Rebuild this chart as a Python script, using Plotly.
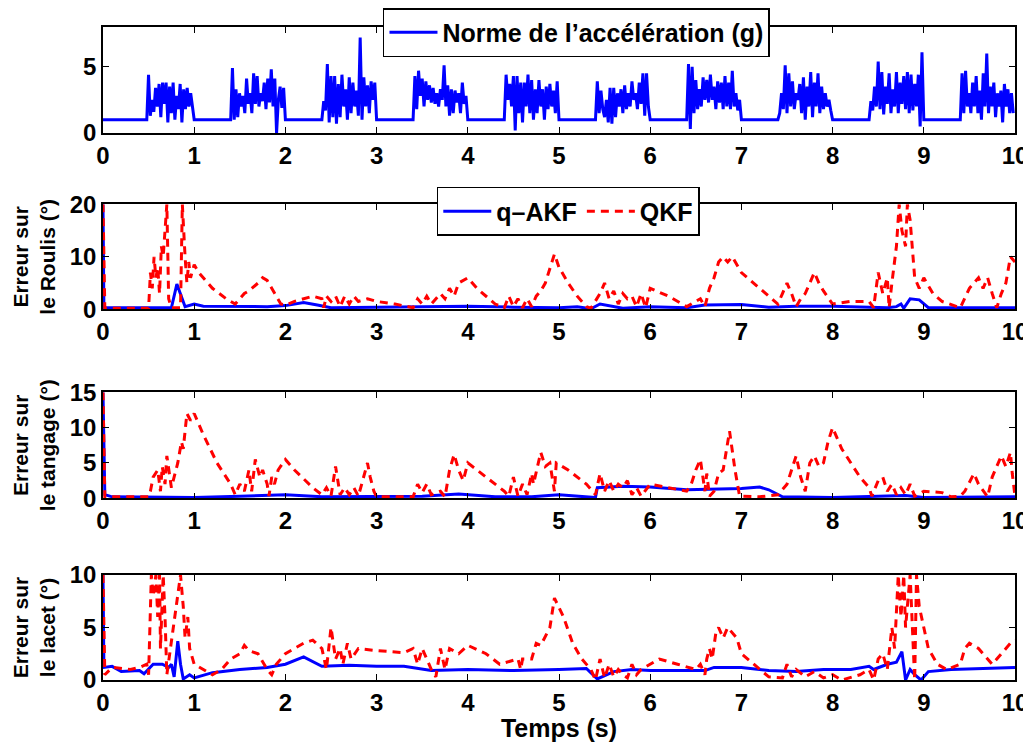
import plotly.graph_objects as go

# ---------------- data ----------------
acc_baseline = 1.0
acc_burst_start = [0.48, 1.40, 2.40, 3.40, 4.40, 5.40, 6.40, 7.40, 8.40, 9.40]
acc_burst_end = [1.00, 2.00, 3.00, 4.00, 5.00, 6.00, 7.00, 8.00, 9.00, 10.00]
acc_b1 = [4.4, 1.3, 2.5, 1.6, 3.4, 2.0, 3.7, 1.2, 3.8, 2.2, 3.8, 0.8, 3.5, 1.5, 3.8, 1.0, 2.8, 1.8, 3.7, 0.8, 3.3, 1.8, 3.4, 2.0, 3.0, 1.9]
acc_b2 = [4.9, 1.0, 3.3, 1.2, 3.0, 2.0, 2.8, 1.5, 4.1, 2.2, 3.0, 1.5, 4.5, 2.2, 4.3, 2.0, 3.0, 2.4, 3.8, 1.8, 4.1, 2.3, 4.8, 2.0, 4.1, 0.0, 2.5, 3.5, 1.9, 3.4]
acc_b3 = [2.4, 1.7, 5.2, 0.8, 4.3, 1.2, 4.3, 0.7, 3.7, 1.2, 4.4, 2.0, 3.3, 1.0, 4.2, 1.5, 3.8, 2.0, 3.2, 1.3, 7.2, 1.0, 4.2, 2.0, 3.6, 1.5, 3.9, 2.5, 3.8]
acc_b4 = [4.3, 1.8, 4.7, 2.8, 4.1, 2.0, 3.9, 2.5, 3.6, 2.3, 3.4, 2.2, 3.0, 2.0, 3.3, 2.5, 5.1, 2.0, 3.6, 1.3, 3.3, 1.5, 3.2, 2.3, 3.0, 1.5, 3.8, 2.2, 2.8]
acc_b5 = [4.4, 2.5, 3.7, 2.0, 4.3, 0.2, 4.3, 1.5, 3.8, 0.8, 3.8, 2.0, 4.4, 1.5, 4.0, 1.0, 3.3, 1.5, 4.0, 2.0, 3.3, 1.0, 3.5, 1.8, 3.7, 2.0, 3.2, 1.5, 3.9]
acc_b6 = [3.9, 1.5, 3.2, 1.8, 1.2, 2.5, 0.8, 3.4, 0.7, 3.4, 1.2, 3.0, 2.0, 3.3, 1.5, 3.6, 1.8, 3.0, 2.0, 3.9, 2.5, 3.0, 1.8, 3.8, 2.2, 4.5, 1.3, 4.5, 2.0]
acc_b7 = [5.2, 0.3, 5.0, 1.5, 4.0, 1.8, 3.3, 2.0, 4.2, 2.5, 4.0, 2.3, 4.4, 2.5, 3.5, 1.8, 3.9, 2.3, 3.8, 1.8, 4.3, 2.0, 3.8, 1.8, 4.7, 2.0, 3.0, 1.7, 2.5]
acc_b8 = [1.5, 3.0, 1.8, 5.1, 1.5, 4.5, 2.0, 3.9, 1.8, 3.0, 2.5, 3.7, 1.5, 4.2, 1.0, 3.5, 2.0, 4.6, 1.2, 3.8, 2.0, 4.5, 1.5, 3.5, 1.8, 3.0, 2.0, 2.5, 1.7]
acc_b9 = [2.4, 1.7, 3.5, 2.0, 5.4, 1.8, 4.6, 1.4, 3.5, 2.2, 4.5, 1.5, 3.3, 2.0, 4.6, 1.5, 3.8, 2.2, 4.3, 1.8, 4.6, 1.5, 4.4, 1.7, 3.7, 2.0, 4.4, 0.5, 6.1]
acc_b10 = [4.5, 1.5, 4.7, 2.0, 3.0, 1.5, 3.8, 2.0, 4.3, 1.5, 3.2, 1.0, 4.5, 2.0, 6.0, 1.5, 3.5, 2.0, 3.8, 1.2, 3.0, 2.0, 3.2, 0.8, 3.7, 2.0, 3.3, 1.5, 3.0, 1.5]

# Roulis error (deg)
roll_akf_t = [0, 0.01, 0.75, 0.81, 0.9, 1.0, 1.1, 1.4, 1.8, 2.0, 2.2, 2.35, 2.5, 3.0, 3.5, 4.0, 4.5, 5.0, 5.2, 5.35, 5.45, 5.6, 5.7, 6.0, 6.4, 6.6, 7.0, 7.3, 7.6, 8.0, 8.6, 8.7, 8.75, 8.78, 8.85, 8.95, 9.05, 10.0]
roll_akf_v = [20, 0.3, 0.3, 4.8, 0.5, 1.0, 0.6, 0.5, 0.5, 0.7, 1.3, 0.8, 0.3, 0.4, 0.5, 0.6, 0.4, 0.3, 0.5, 0.1, 1.0, 0.5, 0.2, 0.5, 0.3, 0.8, 0.9, 0.4, 0.6, 0.6, 0.3, 0.5, 1.0, 0.2, 2.0, 1.8, 0.3, 0.3]
roll_qkf_t = [0, 0.02, 0.5, 0.52, 0.54, 0.56, 0.58, 0.6, 0.62, 0.64, 0.66, 0.68, 0.70, 0.72, 0.75, 0.85, 0.87, 0.9, 0.92, 0.94, 0.96, 1.0, 1.05, 1.2, 1.35, 1.45, 1.5, 1.55, 1.6, 1.7, 1.75, 1.8, 1.85, 1.95, 2.0, 2.1, 2.3, 2.4, 2.42, 2.45, 2.5, 2.55, 2.6, 2.65, 2.7, 2.75, 2.8, 2.9, 3.0, 3.2, 3.4, 3.45, 3.5, 3.55, 3.6, 3.7, 3.75, 3.8, 3.85, 3.9, 4.0, 4.1, 4.3, 4.4, 4.45, 4.5, 4.55, 4.6, 4.65, 4.7, 4.75, 4.8, 4.85, 4.9, 4.95, 5.0, 5.1, 5.2, 5.3, 5.35, 5.45, 5.5, 5.55, 5.6, 5.65, 5.7, 5.75, 5.8, 5.85, 5.9, 5.95, 6.0, 6.2, 6.4, 6.5, 6.55, 6.6, 6.65, 6.7, 6.75, 6.8, 6.85, 6.9, 7.0, 7.2, 7.4, 7.45, 7.5, 7.55, 7.6, 7.65, 7.7, 7.75, 7.8, 7.85, 7.9, 8.0, 8.2, 8.4, 8.45, 8.5, 8.55, 8.6, 8.62, 8.65, 8.7, 8.73, 8.76, 8.8, 8.82, 8.85, 8.88, 8.9, 8.95, 9.0, 9.1, 9.2, 9.4, 9.5, 9.55, 9.6, 9.65, 9.7, 9.75, 9.8, 9.85, 9.9, 9.95, 10.0]
roll_qkf_v = [20, 0.2, 0.2, 7, 4, 10, 6, 8, 3, 12, 10, 15, 20, 2, 0.3, 0.3, 20, 10, 5, 9, 6, 8.5, 7, 4, 2, 1, 2, 3, 3.5, 5, 6, 5.5, 4, 1, 0.8, 1.5, 2.5, 2, 0.3, 2.5, 1.5, 2.5, 0.5, 2.5, 1, 2.5, 1.5, 2, 1.5, 1, 0.3, 2, 1, 2.5, 1, 3, 2, 4, 2.5, 5, 6, 4, 1, 0.3, 2.5, 0.5, 2, 0.3, 2, 0.5, 2.5, 3.5, 5, 8, 10.5, 8, 5, 2.5, 0.5, 0.2, 3, 5, 2, 3.5, 1, 3, 2, 2.5, 0.5, 3, 0.3, 4, 2.5, 0.5, 1.5, 2, 0.5, 4, 6, 9, 10, 9, 10, 7, 4, 1, 3, 5, 3, 0.5, 2, 3, 5, 7, 5, 3.5, 1, 1.5, 1.5, 0.3, 7, 3, 6, 0.3, 5, 12, 20, 15, 12, 20, 17, 10, 6, 4, 6, 3, 1.5, 0.3, 4, 5, 6, 4, 6, 3, 0.3, 3, 5, 10, 9]

# Tangage error (deg)
pitch_akf_t = [0, 0.02, 0.1, 0.5, 1.0, 1.5, 2.0, 2.4, 3.0, 3.5, 3.9, 4.3, 4.7, 5.0, 5.4, 5.42, 5.7, 6.0, 6.4, 6.8, 7.0, 7.2, 7.3, 7.45, 8.0, 8.5, 8.8, 9.0, 9.5, 10.0]
pitch_akf_v = [15, 0.5, 0.2, 0.2, 0.1, 0.3, 0.5, 0.2, 0.2, 0.3, 0.6, 0.2, 0.2, 0.5, 0.1, 1.5, 1.7, 1.6, 1.2, 1.3, 1.4, 1.6, 1.2, 0.2, 0.1, 0.3, 0.4, 0.1, 0.1, 0.2]
pitch_qkf_t = [0, 0.02, 0.5, 0.52, 0.55, 0.6, 0.63, 0.65, 0.68, 0.7, 0.75, 0.78, 0.82, 0.86, 0.88, 0.92, 0.96, 1.0, 1.1, 1.25, 1.4, 1.45, 1.5, 1.55, 1.6, 1.63, 1.67, 1.72, 1.75, 1.8, 1.82, 1.85, 1.88, 1.92, 2.0, 2.1, 2.3, 2.4, 2.45, 2.5, 2.55, 2.6, 2.65, 2.7, 2.75, 2.8, 2.9, 2.93, 2.97, 3.0, 3.4, 3.45, 3.5, 3.55, 3.6, 3.7, 3.75, 3.8, 3.85, 3.9, 3.95, 4.0, 4.2, 4.4, 4.45, 4.5, 4.55, 4.6, 4.65, 4.7, 4.72, 4.8, 4.85, 4.9, 4.95, 4.97, 5.1, 5.3, 5.4, 5.45, 5.5, 5.55, 5.6, 5.65, 5.7, 5.75, 5.8, 5.85, 5.9, 6.0, 6.2, 6.4, 6.45, 6.5, 6.55, 6.6, 6.62, 6.65, 6.7, 6.75, 6.8, 6.87, 6.93, 6.98, 7.2, 7.4, 7.5, 7.55, 7.6, 7.65, 7.7, 7.75, 7.8, 7.85, 7.9, 7.95, 8.0, 8.1, 8.3, 8.4, 8.43, 8.5, 8.55, 8.6, 8.65, 8.7, 8.75, 8.8, 8.85, 8.9, 9.0, 9.2, 9.3, 9.4, 9.45, 9.55, 9.6, 9.7, 9.75, 9.85, 9.9, 9.95, 9.97, 10.0]
pitch_qkf_v = [15, 0.2, 0.2, 1, 3, 4, 1, 4.5, 2, 6, 1.5, 3, 5, 8, 7, 12, 11, 12, 9, 5, 2, 0.5, 2, 1, 4, 1, 5.5, 3, 4, 2, 0.3, 3, 2, 4, 5.5, 4, 1.5, 0.5, 1.5, 0.3, 4.5, 0.5, 1.5, 0.5, 1.5, 0.3, 5, 3, 1, 0.2, 0.2, 2, 0.8, 2, 0.5, 1, 0.2, 4, 6.2, 4, 2.5, 5, 3, 1, 0.3, 3, 0.3, 2, 0.5, 3.5, 2, 6.5, 4.5, 5, 1, 5, 4, 2, 0.5, 3.5, 1, 2.5, 1, 2, 1.5, 2.5, 0.5, 1.5, 0.3, 2, 1.5, 1, 2, 4, 5.5, 1, 3.5, 0.3, 1, 3.5, 4, 9.5, 4, 0.3, 0.2, 0.5, 2, 4, 6, 3, 1, 5, 6, 4.5, 5, 8, 10, 7, 3, 1.5, 0.3, 2.5, 3, 1, 2, 0.5, 1.5, 0.5, 2, 0.3, 1, 0.8, 0.2, 0.3, 1, 3.5, 2, 0.2, 3, 6, 4.5, 6.5, 3.5, 0.3]

# Lacet error (deg)
yaw_akf_t = [0, 0.01, 0.1, 0.2, 0.4, 0.45, 0.55, 0.65, 0.72, 0.75, 0.78, 0.82, 0.85, 0.88, 0.95, 1.0, 1.2, 1.5, 1.8, 2.0, 2.2, 2.4, 2.7, 3.0, 3.3, 3.6, 4.0, 4.5, 5.0, 5.3, 5.42, 5.6, 5.8, 6.0, 6.3, 6.6, 6.7, 7.0, 7.3, 7.6, 7.9, 8.2, 8.4, 8.45, 8.6, 8.7, 8.76, 8.8, 8.85, 8.9, 8.97, 9.05, 9.3, 9.6, 10.0]
yaw_akf_v = [10, 1.2, 1.3, 0.8, 0.9, 0.6, 1.5, 1.5, 1.2, 1.5, 0.3, 3.7, 1.5, 0.1, 0.5, 0.2, 0.7, 1.0, 1.2, 1.5, 2.2, 1.3, 1.4, 1.3, 1.3, 0.9, 1.0, 0.9, 1.0, 1.1, 0.1, 0.8, 1.0, 0.9, 0.9, 0.9, 1.2, 1.2, 0.9, 0.8, 1.0, 1.0, 1.3, 1.0, 1.5, 1.7, 2.7, 0.0, 1.0, 0.5, 0.0, 0.8, 1.0, 1.1, 1.2]
yaw_qkf_t = [0, 0.02, 0.1, 0.3, 0.4, 0.48, 0.5, 0.53, 0.55, 0.58, 0.6, 0.62, 0.63, 0.66, 0.68, 0.7, 0.85, 0.88, 0.9, 0.93, 0.95, 1.0, 1.1, 1.2, 1.3, 1.4, 1.5, 1.55, 1.6, 1.7, 1.8, 1.85, 1.9, 2.0, 2.1, 2.2, 2.3, 2.4, 2.45, 2.5, 2.55, 2.6, 2.63, 2.68, 2.72, 2.8, 3.0, 3.3, 3.4, 3.45, 3.5, 3.6, 3.65, 3.7, 3.75, 3.8, 3.9, 4.0, 4.2, 4.35, 4.55, 4.58, 4.6, 4.7, 4.75, 4.8, 4.9, 4.95, 5.05, 5.15, 5.25, 5.35, 5.4, 5.45, 5.5, 5.55, 5.6, 5.65, 5.7, 5.75, 5.8, 5.85, 5.9, 6.0, 6.1, 6.3, 6.5, 6.55, 6.6, 6.62, 6.65, 6.68, 6.72, 6.75, 6.8, 6.85, 6.95, 7.0, 7.2, 7.3, 7.45, 7.5, 7.55, 7.6, 7.7, 7.8, 7.9, 8.0, 8.1, 8.3, 8.4, 8.45, 8.5, 8.55, 8.6, 8.65, 8.68, 8.72, 8.75, 8.78, 8.8, 8.85, 8.87, 8.9, 8.92, 8.95, 9.05, 9.15, 9.25, 9.4, 9.45, 9.5, 9.6, 9.7, 9.75, 9.85, 9.95, 10.0]
yaw_qkf_v = [10, 0.5, 1.2, 1.0, 1.2, 1.5, 0.5, 10, 8, 10, 6, 10, 3, 10, 6, 0.5, 10, 7, 4, 6, 3, 1.5, 1.0, 0.5, 1, 2, 2.5, 3.3, 2.8, 2.5, 1.0, 0.5, 1.5, 2.5, 3.0, 3.5, 3.8, 3.0, 1.0, 5.0, 2.0, 3.0, 1.5, 3.5, 2.0, 3.0, 2.8, 2.6, 3.0, 1.5, 3.0, 1.0, 0.3, 3.0, 1.0, 3.0, 2.5, 3.3, 2.5, 1.5, 2.0, 1.0, 2.0, 2.0, 3.5, 3.3, 5.0, 7.8, 6, 3.5, 2, 1, 0, 2, 0.2, 1.5, 0.3, 1, 0.5, 0.2, 1.5, 0.5, 1, 1.5, 2.0, 1.5, 1.0, 1.5, 0.5, 2, 3, 2, 4.5, 5, 4, 5, 4, 2.5, 1, 0.3, 0.2, 1.5, 0.3, 1, 0.3, 0.8, 0.2, 0.5, 0, 0.5, 1.0, 0.0, 2.0, 2.5, 1.0, 5, 3, 10, 6, 10, 5, 10, 6, 0, 10, 7, 3, 1.5, 1.0, 1.5, 3.0, 3.5, 3.0, 2.0, 1.5, 2.5, 3.5, 3.8]

x_ticks = [0, 1, 2, 3, 4, 5, 6, 7, 8, 9, 10]

# ---------------- build acceleration series ----------------
bursts = [acc_b1, acc_b2, acc_b3, acc_b4, acc_b5, acc_b6, acc_b7, acc_b8, acc_b9, acc_b10]
acc_t = [0.0]
acc_v = [acc_baseline]
for s, e, vals in zip(acc_burst_start, acc_burst_end, bursts):
    acc_t.append(s)
    acc_v.append(acc_baseline)
    n = len(vals)
    step = (e - s) / (n + 1)
    for i, v in enumerate(vals):
        acc_t.append(s + (i + 1) * step)
        acc_v.append(v)
    if e < 10:
        acc_t.append(e)
        acc_v.append(acc_baseline)

# ---------------- figure ----------------
BLUE = "#0000ff"
RED = "#ff0000"
FONT = "Liberation Sans, Arial, sans-serif"
DASH = "8px,6px"

fig = go.Figure()

fig.add_trace(go.Scatter(x=acc_t, y=acc_v, mode="lines", line=dict(color=BLUE, width=3),
                         name="Norme de l’accélération (g)", xaxis="x", yaxis="y", legend="legend"))

fig.add_trace(go.Scatter(x=roll_akf_t, y=roll_akf_v, mode="lines", line=dict(color=BLUE, width=3),
                         name="q–AKF", xaxis="x2", yaxis="y2", legend="legend2"))
fig.add_trace(go.Scatter(x=roll_qkf_t, y=roll_qkf_v, mode="lines", line=dict(color=RED, width=3, dash=DASH),
                         name="QKF", xaxis="x2", yaxis="y2", legend="legend2"))

fig.add_trace(go.Scatter(x=pitch_akf_t, y=pitch_akf_v, mode="lines", line=dict(color=BLUE, width=3),
                         showlegend=False, xaxis="x3", yaxis="y3"))
fig.add_trace(go.Scatter(x=pitch_qkf_t, y=pitch_qkf_v, mode="lines", line=dict(color=RED, width=3, dash=DASH),
                         showlegend=False, xaxis="x3", yaxis="y3"))

fig.add_trace(go.Scatter(x=yaw_akf_t, y=yaw_akf_v, mode="lines", line=dict(color=BLUE, width=3),
                         showlegend=False, xaxis="x4", yaxis="y4"))
fig.add_trace(go.Scatter(x=yaw_qkf_t, y=yaw_qkf_v, mode="lines", line=dict(color=RED, width=3, dash=DASH),
                         showlegend=False, xaxis="x4", yaxis="y4"))

tickfont = dict(family=FONT, size=24, color="black", weight="bold")
titlefont = dict(family=FONT, size=21, color="black", weight="bold")


def xax(anchor, title=None):
    d = dict(domain=[0, 1], anchor=anchor, range=[0, 10], tickvals=x_ticks, ticks="inside",
             ticklen=6, tickcolor="black", showline=True, linecolor="black", linewidth=1.5,
             mirror="ticks", showgrid=False, zeroline=False, tickfont=tickfont, automargin=False)
    if title:
        d["title"] = dict(text=title, font=dict(family=FONT, size=25, color="black", weight="bold"), standoff=2)
    return d


def yax(anchor, dom, rng, tv, title=None):
    d = dict(domain=dom, anchor=anchor, range=rng, tickvals=tv, ticks="inside", ticklen=6,
             tickcolor="black", showline=True, linecolor="black", linewidth=1.5, mirror="ticks",
             showgrid=False, zeroline=False, tickfont=tickfont, automargin=False)
    if title:
        d["title"] = dict(text=title, font=titlefont, standoff=8)
    return d


legend_font = dict(family=FONT, size=25, color="black", weight="bold")

# the page body adds an 8px offset, so the figure is 8px smaller than the window
fig.update_layout(
    width=1023, height=734,
    margin=dict(l=95, r=16, t=19, b=62, autoexpand=False),
    paper_bgcolor="white", plot_bgcolor="white",
    font=dict(family=FONT, color="black"),
    xaxis=xax("y"),
    yaxis=yax("x", [0.8377, 1.0], [0, 8], [0, 5]),
    xaxis2=xax("y2"),
    yaxis2=yax("x2", [0.5677, 0.7285], [0, 20], [0, 10, 20], "Erreur sur<br>le Roulis (°)"),
    xaxis3=xax("y3"),
    yaxis3=yax("x3", [0.2783, 0.4406], [0, 15], [0, 5, 10, 15], "Erreur sur<br>le tangage (°)"),
    xaxis4=xax("y4", "Temps (s)"),
    yaxis4=yax("x4", [0.0, 0.1608], [0, 10], [0, 5, 10], "Erreur sur<br>le lacet (°)"),
    legend=dict(orientation="h", x=0.307, y=1.029, xanchor="left", yanchor="top",
                bgcolor="white", bordercolor="black", borderwidth=1.5,
                font=legend_font, itemwidth=48, tracegroupgap=0),
    legend2=dict(orientation="h", x=0.366, y=0.755, xanchor="left", yanchor="top",
                 bgcolor="white", bordercolor="black", borderwidth=1.5,
                 font=legend_font, itemwidth=48, tracegroupgap=0),
    showlegend=True,
)

fig.write_html("out.html")
